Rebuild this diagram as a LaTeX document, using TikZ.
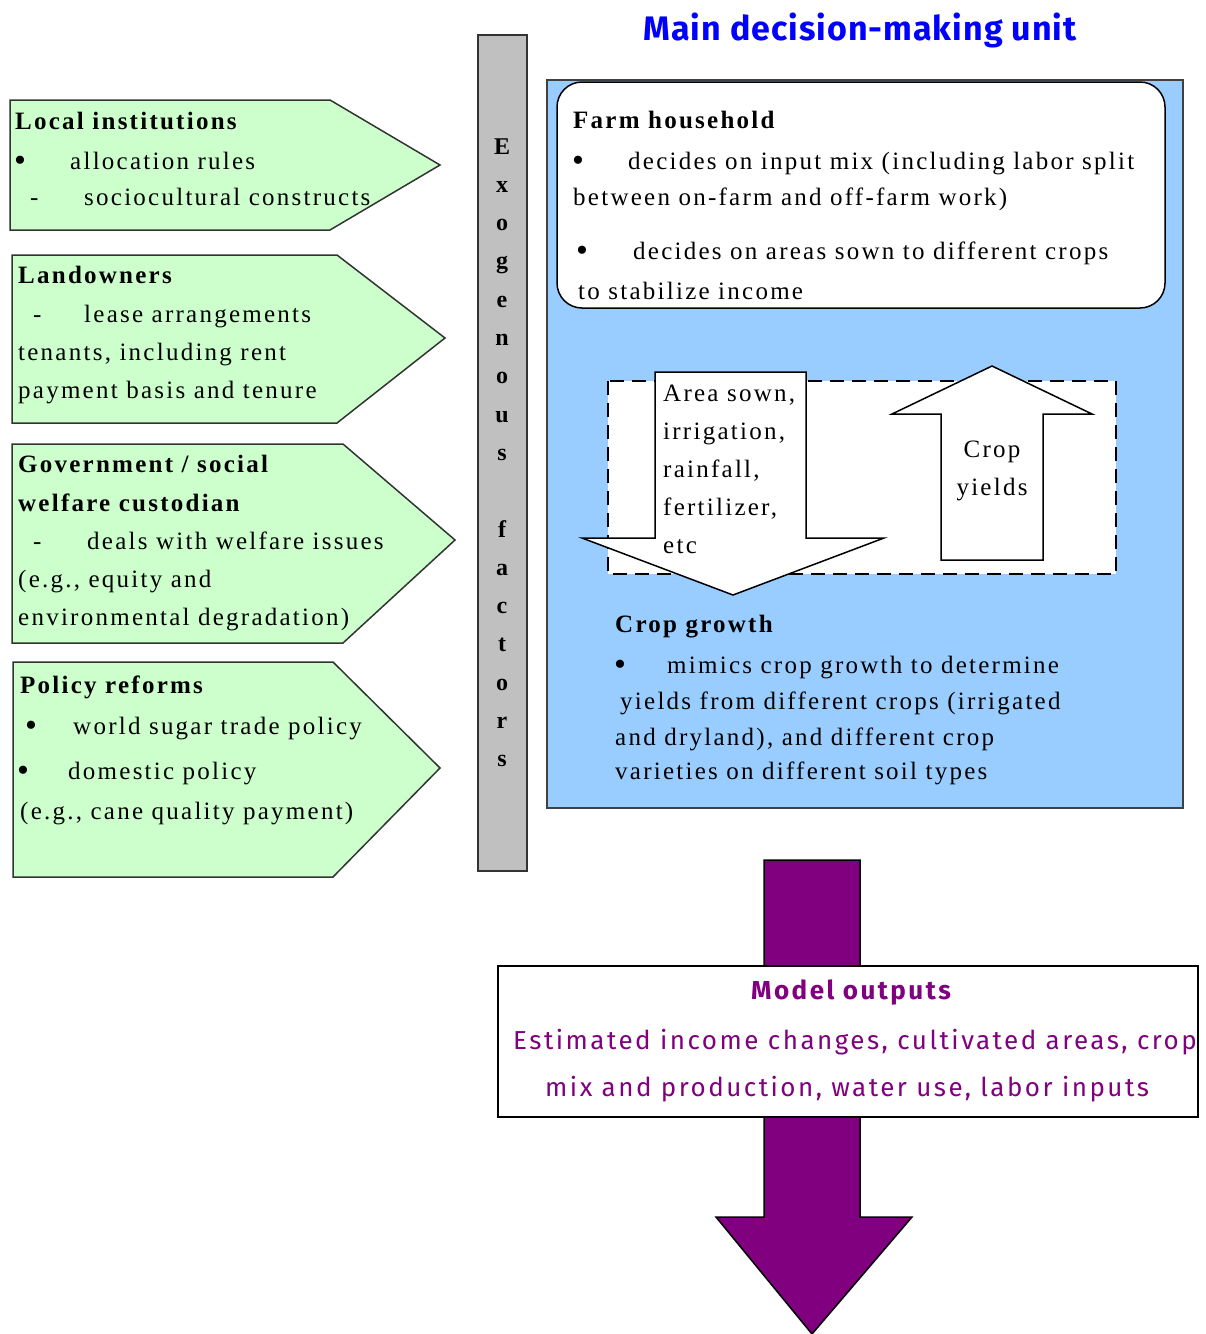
\documentclass[tikz,border=0pt]{standalone}
\usepackage{fontspec}
\setmainfont{Liberation Serif}[LetterSpace=9]
\newfontfamily\comic{Fira Sans}[LetterSpace=3]
\newfontfamily\comicw{Fira Sans}[LetterSpace=9.5]
\definecolor{gfill}{RGB}{204,255,204}
\definecolor{bfill}{RGB}{153,204,255}
\definecolor{gbar}{RGB}{192,192,192}
\definecolor{purp}{RGB}{128,0,128}
\definecolor{tblue}{RGB}{0,0,255}
\newcommand{\bul}{{\fontsize{34}{34}\selectfont •}}
\begin{document}
\begin{tikzpicture}[x=1pt,y=-1pt,
  tx/.style={anchor=base west,inner sep=0pt,font=\fontsize{25}{28}\selectfont},
  bx/.style={anchor=base west,inner sep=0pt,font=\fontsize{25}{28}\selectfont\bfseries},
  gbox/.style={fill=gfill,draw=black!80,line width=1.5pt},
  blk/.style={fill=white,draw=black,line width=1.5pt},
  ptx/.style={inner sep=0pt,text=purp,font=\comicw\fontsize{26}{30}\selectfont}]
\useasboundingbox (0,0) rectangle (1206,1334);
% left green pentagons
\draw[gbox] (10,100) -- (330,100) -- (440,165) -- (330,230) -- (10,230) -- cycle;
\draw[gbox] (12,255) -- (337,255) -- (445,338) -- (337,423) -- (12,423) -- cycle;
\draw[gbox] (12,444) -- (343,444) -- (455,540) -- (343,643) -- (12,643) -- cycle;
\draw[gbox] (13,662) -- (333,662) -- (440,768) -- (333,877) -- (13,877) -- cycle;
% box 1
\node[bx] (l1a) at (15,129) {Local institutions};
\node[tx] (l1b) at (14,171) {\bul};
\node[tx] (l1c) at (70,169) {allocation rules};
\node[tx] (l1d) at (30,205) {-};
\node[tx] (l1e) at (84,205) {sociocultural constructs};
% box 2
\node[bx] (l2a) at (18,283) {Landowners};
\node[tx] (l2b) at (33,322) {-};
\node[tx] (l2c) at (84,322) {lease arrangements};
\node[tx] (l2d) at (18,360) {tenants, including rent};
\node[tx] (l2e) at (18,398) {payment basis and tenure};
% box 3
\node[bx] (l3a) at (18,472) {Government / social};
\node[bx] (l3b) at (18,511) {welfare custodian};
\node[tx] (l3c) at (33,549) {-};
\node[tx] (l3d) at (87,549) {deals with welfare issues};
\node[tx] (l3e) at (18,587) {(e.g., equity and};
\node[tx] (l3f) at (18,625) {environmental degradation)};
% box 4
\node[bx] (l4a) at (20,693) {Policy reforms};
\node[tx] (l4b) at (25,736) {\bul};
\node[tx] (l4c) at (73,734) {world sugar trade policy};
\node[tx] (l4d) at (17,781) {\bul};
\node[tx] (l4e) at (68,779) {domestic policy};
\node[tx] (l4f) at (20,819) {(e.g., cane quality payment)};
% grey bar
\draw[fill=gbar,draw=black!80,line width=1.5pt] (478,35) rectangle (527,871);
\foreach \ch [count=\i from 0] in {E,x,o,g,e,n,o,u,s,{},f,a,c,t,o,r,s}
  \node[anchor=base,inner sep=0pt,font=\fontsize{24}{28}\selectfont\bfseries] (ex\i) at (502,{154+38.3*\i}) {\ch};
% title
\node[inner sep=0pt,anchor=base,text=tblue,font=\comic\fontsize{34}{40}\selectfont\bfseries] (title) at (860,40) {Main decision-making unit};
% blue box
\draw[fill=bfill,draw=black!75,line width=1.5pt] (547,80) rectangle (1183,808);
\draw[blk,rounded corners=25pt] (557,82) rectangle (1165,308);
\node[bx] (f1) at (573,128) {Farm household};
\node[tx] (f2) at (572,171) {\bul};
\node[tx] (f3) at (628,169) {decides on input mix (including labor split};
\node[tx] (f4) at (573,205) {between on-farm and off-farm work)};
\node[tx] (f5) at (576,261) {\bul};
\node[tx] (f6) at (633,259) {decides on areas sown to different crops};
\node[tx] (f7) at (578,299) {to stabilize income};
% dashed frame and arrows
\draw[fill=white,draw=black,line width=2pt,dash pattern=on 14pt off 8pt] (608,381) rectangle (1116,574);
\draw[blk] (655,372) -- (806,372) -- (806,538) -- (884,538) -- (733,595) -- (582,538) -- (655,538) -- cycle;
\draw[blk] (941,560) -- (941,414) -- (892,414) -- (992,366) -- (1092,414) -- (1043,414) -- (1043,560) -- cycle;
\node[tx] (a1) at (663,401) {Area sown,};
\node[tx] (a2) at (663,439) {irrigation,};
\node[tx] (a3) at (663,477) {rainfall,};
\node[tx] (a4) at (663,515) {fertilizer,};
\node[tx] (a5) at (663,553) {etc};
\node[tx,anchor=base] (y1) at (992,457) {Crop};
\node[tx,anchor=base] (y2) at (992,495) {yields};
% crop growth
\node[bx] (c1) at (615,632) {Crop growth};
\node[tx] (c2) at (614,675) {\bul};
\node[tx] (c3) at (667,673) {mimics crop growth to determine};
\node[tx] (c4) at (620,709) {yields from different crops (irrigated};
\node[tx] (c5) at (615,745) {and dryland), and different crop};
\node[tx] (c6) at (615,779) {varieties on different soil types};
% purple arrow and outputs
\draw[fill=purp,draw=black,line width=1.5pt] (764,860) -- (860,860) -- (860,1217) -- (912,1217) -- (812,1334) -- (716,1217) -- (764,1217) -- cycle;
\draw[blk] (498,966) rectangle (1198,1117);
\node[ptx,anchor=base,font=\comicw\fontsize{26}{30}\selectfont\bfseries] (m1) at (851,999) {Model outputs};
\node[ptx,anchor=base west] (m2) at (513,1049) {Estimated income changes, cultivated areas, crop};
\node[ptx,anchor=base west] (m3) at (545,1096) {mix and production, water use, labor inputs};
\end{tikzpicture}
\end{document}
